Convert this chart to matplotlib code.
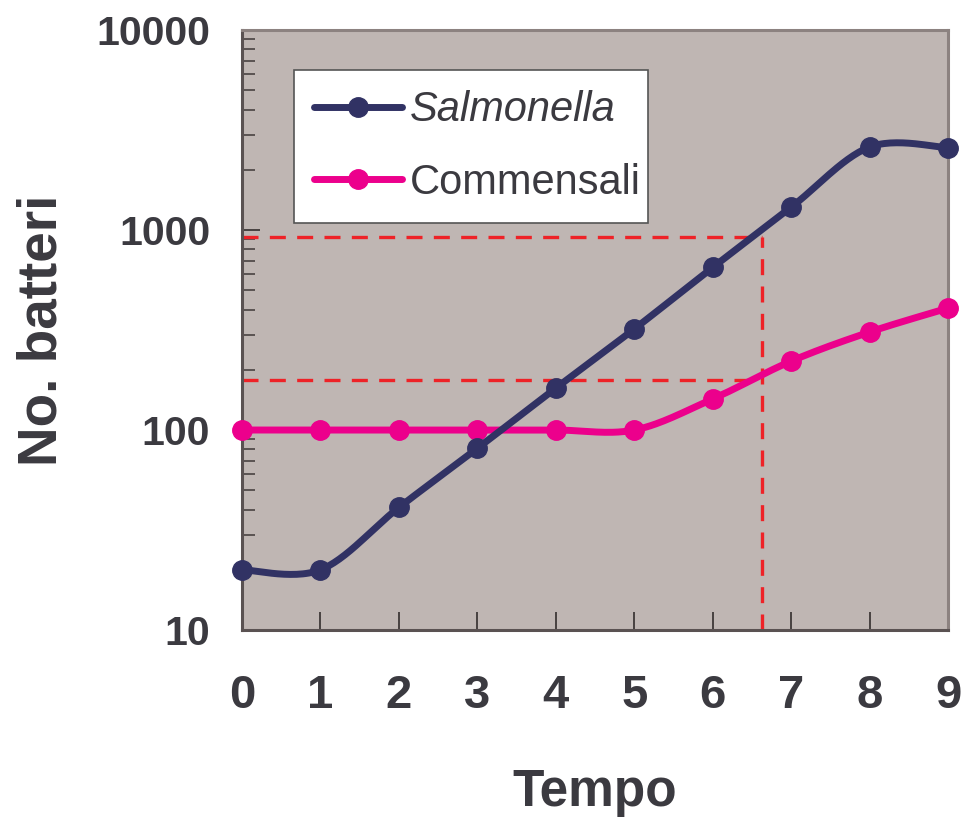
import numpy as np
import matplotlib
matplotlib.use("Agg")
import matplotlib.pyplot as plt
from matplotlib.lines import Line2D

# ---------------- data ----------------
tempo = [0, 1, 2, 3, 4, 5, 6, 7, 8, 9]
salmonella = [20, 20, 41, 81, 162, 320, 650, 1300, 2600, 2580]
commensali = [100, 100, 100, 100, 100, 100, 143, 221, 309, 407]
ref_y_high = 920
ref_y_low = 178
ref_x = 6.63
yticks = [10, 100, 1000, 10000]
ytick_labels = ["10", "100", "1000", "10000"]
xtick_labels = ["0", "1", "2", "3", "4", "5", "6", "7", "8", "9"]

NAVY = "#313264"
PINK = "#ec008c"
RED = "#ee2227"
TXT = "#3b3a40"
BG = "#bfb6b3"

plt.rcParams['font.family'] = ['Liberation Sans', 'DejaVu Sans']

def smooth(xv, yv, n=30, sx=0.392):
    """Catmull-Rom style smoothing in (x, log10 y) space, like spreadsheet smoothed lines."""
    px = np.asarray(xv, float) * sx
    py = np.log10(np.asarray(yv, float))
    P = np.column_stack([px, py])
    out = [P[0]]
    for i in range(len(P) - 1):
        p0 = P[i - 1] if i > 0 else P[i]
        p1, p2 = P[i], P[i + 1]
        p3 = P[i + 2] if i + 2 < len(P) else P[i + 1]
        c1 = p1 + (p2 - p0) / 6.0
        c2 = p2 - (p3 - p1) / 6.0
        t = np.linspace(0, 1, n)[1:, None]
        seg = ((1 - t) ** 3) * p1 + 3 * ((1 - t) ** 2) * t * c1 + 3 * (1 - t) * t ** 2 * c2 + t ** 3 * p2
        out.extend(seg)
    out = np.array(out)
    return out[:, 0] / sx, 10 ** out[:, 1]

fig = plt.figure(figsize=(9.65, 8.23), dpi=100)
ax = fig.add_axes([0.2508, 0.2345, 0.7316, 0.729])
ax.set_facecolor(BG)
ax.set_yscale("log")
ax.set_xlim(0, 9)
ax.set_ylim(10, 10000)

# reference dashed lines
DASH = dict(color=RED, lw=2.4, dashes=(4.8, 3.4), zorder=2)
ax.plot([0, ref_x], [ref_y_high, ref_y_high], **DASH)
ax.plot([0, ref_x], [ref_y_low, ref_y_low], **DASH)
ax.plot([ref_x, ref_x], [10, ref_y_high], **DASH)

LW = 5.0
MS = 14
sx_, sy_ = smooth(tempo, salmonella)
cx_, cy_ = smooth(tempo, commensali)
ax.plot(cx_, cy_, color=PINK, lw=LW, solid_capstyle="round", zorder=3, clip_on=False)
ax.plot(tempo, commensali, 'o', color=PINK, ms=MS, zorder=4, clip_on=False)
ax.plot(sx_, sy_, color=NAVY, lw=LW, solid_capstyle="round", zorder=5, clip_on=False)
ax.plot(tempo, salmonella, 'o', color=NAVY, ms=MS, zorder=6, clip_on=False)

# ticks
ax.set_xticks(tempo)
ax.set_xticklabels(xtick_labels)
ax.set_yticks(yticks)
ax.set_yticklabels(ytick_labels)
ax.tick_params(axis="x", direction="in", length=13, width=1.3, color="#3e3838",
               labelsize=34, pad=32, labelcolor=TXT)
ax.tick_params(axis="y", which="major", direction="in", length=13, width=1.3, color="#3e3838",
               labelsize=29.5, pad=23, labelcolor=TXT)
ax.tick_params(axis="y", which="minor", direction="in", length=9, width=1.1, color="#3e3838")
for lab in ax.get_xticklabels() + ax.get_yticklabels():
    lab.set_fontweight("bold")

for side in ["left", "bottom"]:
    ax.spines[side].set_color("#5a5252")
    ax.spines[side].set_linewidth(2.2)
for side in ["top", "right"]:
    ax.spines[side].set_color("#8c8280")
    ax.spines[side].set_linewidth(2.2)

ax.set_xlabel("Tempo", fontsize=37, fontweight="bold", color=TXT, labelpad=36)
ax.set_ylabel("No. batteri", fontsize=39.5, fontweight="bold", color=TXT, labelpad=20)

handles = [
    Line2D([], [], color=NAVY, lw=LW, marker='o', ms=MS, solid_capstyle="round"),
    Line2D([], [], color=PINK, lw=LW, marker='o', ms=MS, solid_capstyle="round"),
]
leg = ax.legend(handles, ["Salmonella", "Commensali"], loc="upper left",
                bbox_to_anchor=(0.0737, 0.69, 0.5014, 0.243), mode="expand",
                fontsize=30, frameon=True,
                fancybox=False, edgecolor="#555555", facecolor="white", framealpha=1,
                handlelength=2.1, handletextpad=0.2, borderpad=0.48, labelspacing=0.78,
                borderaxespad=0, markerscale=1.0)
leg.get_frame().set_linewidth(1.2)
for t in leg.get_texts():
    t.set_color(TXT)
leg.get_texts()[0].set_fontstyle("italic")
leg.set_zorder(10)

fig.savefig("out.png", dpi=100)
